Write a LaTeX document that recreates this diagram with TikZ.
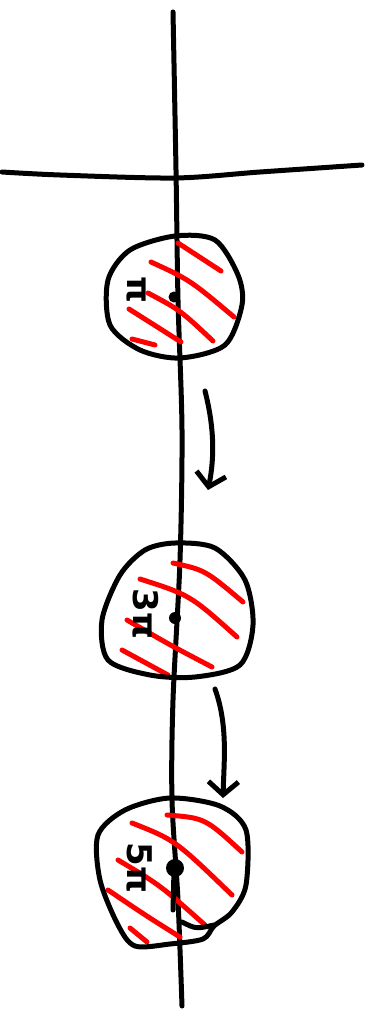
\documentclass[tikz,border=0pt]{standalone}
\usepackage{fontspec}
\newfontfamily\lblfont{DejaVu Sans}
\usetikzlibrary{arrows.meta}
\begin{document}
\begin{tikzpicture}[x=1pt,y=-1pt,
  ink/.style={line width=5pt,line cap=round,line join=round,black},
  hatch/.style={line width=5pt,line cap=round,red},
  lbl/.style={rotate=-90,font=\lblfont\bfseries\fontsize{34}{36}\selectfont,inner sep=0pt},
  arr/.style={ink,-{Straight Barb[length=13pt,width=30pt,line width=5pt]}}]
\useasboundingbox (0,0) rectangle (370,1011);
% axes
\draw[ink] plot[smooth] coordinates {(173,12) (176,170) (178,300) (182,430) (180,560) (173,700) (172,800) (178,900) (182,1006)};
\draw[ink] plot[smooth] coordinates {(2,172) (60,175) (175,178) (260,172) (362,165)};
% blob 1
\draw[hatch] (178,243) -- (221,271);
\draw[hatch] (151,262) .. controls (190,280) .. (234,317);
\draw[hatch] (148,293) .. controls (180,310) .. (213,341);
\draw[hatch] (129,309) -- (181,342);
\draw[hatch] (132,339) -- (155,345);
\draw[ink] plot[smooth cycle] coordinates {(175,236) (215,240) (238,275) (242,305) (225,345) (180,358) (140,350) (110,325) (108,280) (130,250)};
\fill (174,297) circle (5.5pt);
\node[lbl] (l1) at (136,290) {π};
% blob 2
\draw[hatch] (173,563) .. controls (205,570) .. (243,602);
\draw[hatch] (140,579) .. controls (190,595) .. (237,637);
\draw[hatch] (127,620) .. controls (170,645) .. (212,667);
\draw[hatch] (122,650) -- (168,675);
\draw[ink] plot[smooth cycle] coordinates {(175,543) (215,548) (245,580) (253,625) (240,665) (195,677) (150,675) (108,660) (102,620) (120,575) (145,550)};
\fill (175,618) circle (6pt);
\node[lbl] (l2) at (146,614) {3π};
% blob 3
\draw[hatch] (167,815) .. controls (205,818) .. (242,852);
\draw[hatch] (132,823) .. controls (175,840) .. (232,895);
\draw[hatch] (118,860) .. controls (160,885) .. (205,925);
\draw[hatch] (108,890) .. controls (145,915) .. (180,937);
\draw[hatch] (130,928) -- (147,942);
\draw[ink] plot[smooth cycle] coordinates {(170,798) (220,806) (246,830) (246,885) (232,912) (214,926) (203,939) (170,944) (135,946) (118,925) (100,880) (98,835) (125,810)};
\draw[ink] (182,922) .. controls (196,929) .. (214,925);
\fill (175,868) circle (9pt);
\draw[ink] (174,870) -- (173,910);
\node[lbl] (l3) at (140,868) {5π};
% arrows
\coordinate (a1s) at (205,391);
\coordinate (a1e) at (208,490);
\coordinate (a2s) at (215,689);
\coordinate (a2e) at (223,798);
\draw[arr] (a1s) .. controls (215,430) and (214,460) .. (a1e);
\draw[arr] (a2s) .. controls (228,725) and (224,760) .. (a2e);
\end{tikzpicture}
\end{document}
